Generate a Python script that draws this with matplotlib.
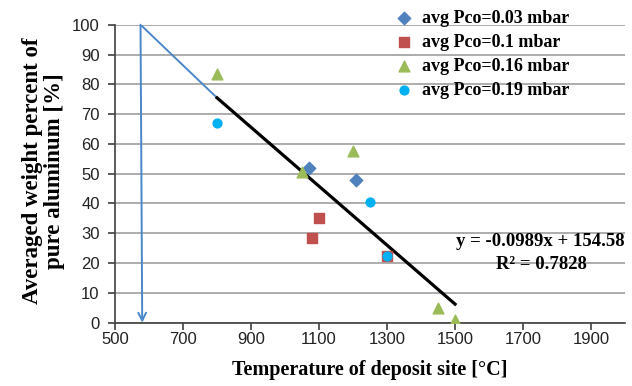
import matplotlib
matplotlib.use("Agg")
import matplotlib.pyplot as plt
import numpy as np

# data
t_003 = [1070, 1210]
w_003 = [52, 48]
t_01 = [1080, 1100, 1300]
w_01 = [28.5, 35, 22.5]
t_016 = [800, 1050, 1200, 1450, 1500]
w_016 = [83.5, 50.5, 57.5, 5, 1]
t_019 = [800, 1250, 1300]
w_019 = [67, 40.5, 22.5]

# linear trendline as printed on the chart
slope = -0.0989
intercept = 154.58
r2 = 0.7828
trend_x = [800, 1500]

# hand drawn extrapolation (blue line with arrow)
extra_x = [800, 575]
extra_y = [slope * 800 + intercept, 100]
arrow_end = (580, 0)

xticks = [500, 700, 900, 1100, 1300, 1500, 1700, 1900]
yticks = list(range(0, 101, 10))

serif = "Liberation Serif"
sans = "Liberation Sans"

fig = plt.figure(figsize=(6.32, 3.86), dpi=100)
ax = fig.add_axes([0.182, 0.164, 0.807, 0.772])

ax.scatter(t_003, w_003, marker="D", s=40, color="#4f81bd", zorder=4, label="avg Pco=0.03 mbar")
ax.scatter(t_01, w_01, marker="s", s=45, color="#c0504d", zorder=4, label="avg Pco=0.1 mbar")
ax.scatter(t_016, w_016, marker="^", s=60, color="#9bbb59", zorder=4, label="avg Pco=0.16 mbar")
ax.scatter(t_019, w_019, marker="o", s=40, color="#00b0f0", zorder=5, label="avg Pco=0.19 mbar")

ty = [slope * x + intercept for x in trend_x]
ax.plot(trend_x, ty, color="black", lw=2.3, zorder=3)

ax.plot(extra_x, extra_y, color="#4a86c8", lw=1.4, zorder=2)
ax.annotate("", xy=arrow_end, xytext=(extra_x[1], extra_y[1]),
            arrowprops=dict(arrowstyle="->", color="#4a86c8", lw=1.4,
                            mutation_scale=14, shrinkA=0, shrinkB=0), zorder=2)

ax.set_xlim(500, 2000)
ax.set_ylim(0, 100)
ax.set_xticks(xticks)
ax.set_yticks(yticks)
ax.grid(axis="y", color="#a6a6a6", lw=1.3)
ax.set_axisbelow(True)
for s in ["top", "right"]:
    ax.spines[s].set_visible(False)
for s in ["left", "bottom"]:
    ax.spines[s].set_color("#404040")
    ax.spines[s].set_linewidth(1.2)
ax.tick_params(direction="out", length=5, width=1.2, color="#404040",
               labelsize=12, pad=2)
ax.tick_params(axis="y", pad=6)
for lab in ax.get_xticklabels() + ax.get_yticklabels():
    lab.set_fontfamily(sans)
    lab.set_color("#222222")

ax.set_xlabel("Temperature of deposit site [°C]", fontfamily=serif,
              fontweight="bold", fontsize=14.5, labelpad=9)
ax.set_ylabel("Averaged weight percent of\npure aluminum [%]", fontfamily=serif,
              fontweight="bold", fontsize=16.5, linespacing=1.05)
ax.yaxis.set_label_coords(-0.098, 0.51)

leg = ax.legend(loc="upper left", bbox_to_anchor=(0.602, 1.008), bbox_transform=fig.transFigure,
                frameon=False, handletextpad=0.4, labelspacing=0.4, borderpad=0.2,
                prop=dict(family=serif, weight="bold", size=13), handlelength=1.2)

ax.text(1750, 27.4, "y = -0.0989x + 154.58", fontfamily=serif, fontweight="bold",
        fontsize=13.5, ha="center", va="center")
ax.text(1755, 19.4, "R² = 0.7828", fontfamily=serif, fontweight="bold",
        fontsize=13.5, ha="center", va="center")

fig.savefig("out.png", dpi=100)
